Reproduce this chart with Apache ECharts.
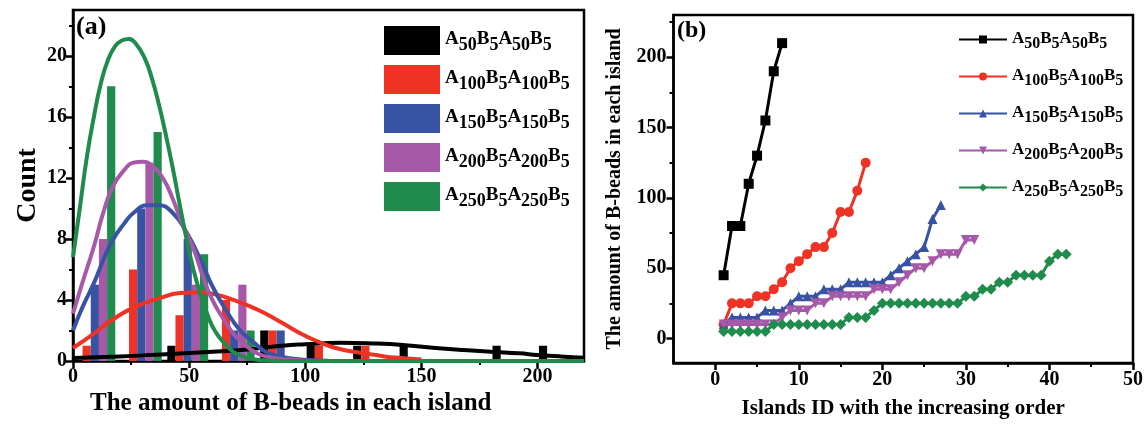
<!DOCTYPE html>
<html><head><meta charset="utf-8">
<script src="https://cdn.jsdelivr.net/npm/echarts@6/dist/echarts.min.js"></script>
<style>html,body{margin:0;padding:0;background:#fff}#c{width:1146px;height:431px}</style>
</head><body><div id="c"></div>
<script>
// ---------- DATA ----------
const polymerNames = ['A50B5A50B5','A100B5A100B5','A150B5A150B5','A200B5A200B5','A250B5A250B5'];
// panel (a): histogram bins (start of each 20-wide bin)
const binStarts = [0,20,40,60,80,100,120,140,160,180,200];
const countA50  = [0,0,1,0,2,1,1,1,0,1,1];
const countA100 = [1,6,3,4,2,1,1,0,0,0,0];
const countA150 = [5,10,8,2,2,0,0,0,0,0,0];
const countA200 = [8,13,5,5,0,0,0,0,0,0,0];
const countA250 = [18,15,7,2,0,0,0,0,0,0,0];
// panel (a): fitted curves [x, count]
const fitA50  = [[0,0.2],[20,0.3],[40,0.45],[60,0.6],[75,0.75],[90,1.0],[100,1.1],[115,1.2],[130,1.15],[142,1.05],[156,0.85],[170,0.7],[180,0.6],[192,0.5],[200,0.4],[210,0.3],[220,0.22]];
const fitA100 = [[0,0.85],[9,1.8],[17,2.7],[26,3.5],[37,4.1],[46,4.45],[55,4.5],[63,4.3],[69,4.0],[76,3.6],[83,3.1],[90,2.5],[98,1.8],[105,1.3],[112,0.9],[119,0.65],[126,0.5],[134,0.3],[141,0.2],[150,0.1]];
const fitA150 = [[0,2.0],[4,3.5],[9,5.1],[13,6.6],[17,7.9],[22,9.0],[26,9.7],[32,10.2],[37,10.2],[43,9.7],[49,8.4],[55,6.6],[60,4.9],[66,3.3],[72,2.0],[78,1.2],[83,0.6],[89,0.3],[98,0.1],[110,0.02]];
const fitA200 = [[0,3.1],[4,5.1],[9,7.5],[13,9.7],[17,11.4],[22,12.5],[26,13.0],[30,13.05],[34,12.8],[39,11.9],[43,10.6],[47,9.0],[52,7.3],[56,5.5],[60,4.0],[65,2.7],[69,1.8],[73,1.2],[78,0.6],[83,0.3],[92,0.1],[105,0.02]];
const fitA250 = [[0,6.8],[3,10.1],[6,13.4],[9,16.0],[12,18.2],[15,19.7],[18,20.6],[21,21.0],[24,21.1],[27,20.8],[31,19.8],[34,18.5],[37,16.8],[40,14.8],[43,12.6],[46,10.2],[49,7.9],[52,5.9],[55,4.3],[58,3.0],[61,2.0],[65,1.2],[69,0.6],[75,0.2],[82,0.05],[90,0],[220,0]];
// panel (b): B-beads per island, islands sorted (island ID = position 1..n)
const islandsA50  = [45,80,80,110,130,155,190,210];
const islandsA100 = [10,25,25,25,30,30,35,40,50,55,60,65,65,75,90,90,105,125];
const islandsA150 = [10,15,15,15,15,20,20,20,25,30,30,30,35,35,35,40,40,40,40,40,45,50,55,60,65,85,95];
const islandsA200 = [10,10,10,10,10,10,10,15,20,20,20,25,25,30,30,30,30,30,35,35,35,40,45,50,50,55,60,60,60,70,70];
const islandsA250 = [5,5,5,5,5,5,10,10,10,10,10,10,10,10,10,15,15,15,20,25,25,25,25,25,25,25,25,25,25,30,30,35,35,40,40,45,45,45,45,55,60,60];
// tick labels
const ticksAx = [0,50,100,150,200], minorAx = [25,75,125,175];
const ticksAy = [0,4,8,12,16,20], minorAy = [2,6,10,14,18,22];
const ticksBx = [0,10,20,30,40,50], minorBx = [5,15,25,35,45];
const ticksBy = [0,50,100,150,200], minorBy = [25,75,125,175,225];

// ---------- STYLE ----------
const colors = ['#000000','#EE3224','#3953A4','#A659A9','#1F8B4C'];
const symbols = ['rect','circle','triangle','triangle','diamond'];
const symbolRot = [0,0,0,180,0];
const FONT = 'Liberation Serif';
const counts = [countA50,countA100,countA150,countA200,countA250];
const fits = [fitA50,fitA100,fitA150,fitA200,fitA250];
const islands = [islandsA50,islandsA100,islandsA150,islandsA200,islandsA250];
const BAR_START = 0.6, BAR_W = 3.52;

function fmt(name){
  const m = name.replace(/^.*:/,'').match(/A(\d+)B(\d+)A(\d+)B(\d+)/);
  return '{b|A}{s|'+m[1]+'}{b|B}{s|'+m[2]+'}{b|A}{s|'+m[3]+'}{b|B}{s|'+m[4]+'}';
}
function rich(fs, fss, drop){
  return {
    b:{fontFamily:FONT,fontWeight:'bold',fontSize:fs,color:'#000',lineHeight:fs+2,verticalAlign:'top'},
    s:{fontFamily:FONT,fontWeight:'bold',fontSize:fss,color:'#000',lineHeight:fs+2,verticalAlign:'top',padding:[drop,0,0,0]}
  };
}
function barRenderer(slot){
  return function(params, api){
    const v = api.value(1);
    if (!v) return {type:'group',children:[]};
    const x0 = api.value(0) + BAR_START + slot*BAR_W;
    const p1 = api.coord([x0, v]);
    const p2 = api.coord([x0 + BAR_W, 0]);
    return {type:'rect', shape:{x:p1[0], y:p1[1], width:p2[0]-p1[0], height:p2[1]-p1[1]},
            style:{fill: colors[slot]}};
  };
}
const axLine = {show:true, onZero:false, lineStyle:{color:'#000', width:2.5}};
const noLine = {show:false, onZero:false};
function labelStyle(fs, vals){ return {show:true, customValues:vals, fontFamily:FONT, fontWeight:'bold', fontSize:fs, color:'#000'}; }

const series = [];
counts.forEach((c,i)=>{
  series.push({type:'custom', name:polymerNames[i], xAxisIndex:0, yAxisIndex:0, z:2,
    itemStyle:{color:colors[i]}, renderItem:barRenderer(i), encode:{x:0,y:1},
    data: binStarts.map((b,k)=>[b,c[k]])});
});
fits.forEach((f,i)=>{
  series.push({type:'line', name:'fit:'+polymerNames[i], xAxisIndex:0, yAxisIndex:0, z:3+i,
    smooth:true, showSymbol:false, lineStyle:{color:colors[i], width:4}, data:f});
});
islands.forEach((v,i)=>{
  series.push({type:'line', name:'b:'+polymerNames[i], xAxisIndex:2, yAxisIndex:2, z:3+i,
    symbol:symbols[i], symbolRotate:symbolRot[i], symbolSize: i===0?10:(i===4?11:10),
    itemStyle:{color:colors[i]}, lineStyle:{color:colors[i], width:3},
    data: v.map((y,k)=>[k+1,y])});
});

const option = {
  animation:false,
  backgroundColor:'#fff',
  grid:[
    {left:73, top:10, width:511, height:351, show:true, borderColor:'#000', borderWidth:2.5, containLabel:false},
    {left:673.5, top:15, width:463.5, height:348, show:true, borderColor:'#000', borderWidth:2.5, containLabel:false}
  ],
  xAxis:[
    {type:'value', gridIndex:0, position:'bottom', min:0, max:220, axisLine:axLine, splitLine:{show:false},
     axisTick:{show:true, customValues:ticksAx, length:7, lineStyle:{width:2.5,color:'#000'}},
     axisLabel:Object.assign(labelStyle(20,ticksAx),{margin:6})},
    {type:'value', gridIndex:0, position:'bottom', min:0, max:220, axisLine:noLine, splitLine:{show:false},
     axisTick:{show:true, customValues:minorAx, length:4, lineStyle:{width:2,color:'#000'}},
     axisLabel:{show:false}},
    {type:'value', gridIndex:1, position:'bottom', min:-5, max:50, axisLine:axLine, splitLine:{show:false},
     axisTick:{show:true, customValues:ticksBx, length:7, lineStyle:{width:2.5,color:'#000'}},
     axisLabel:Object.assign(labelStyle(20,ticksBx),{margin:7}),
     name:'Islands ID with the increasing order', nameLocation:'middle', nameGap:35,
     nameTextStyle:{fontFamily:FONT, fontWeight:'bold', fontSize:21, color:'#000'}},
    {type:'value', gridIndex:1, position:'bottom', min:-5, max:50, axisLine:noLine, splitLine:{show:false},
     axisTick:{show:true, customValues:minorBx, length:4, lineStyle:{width:2,color:'#000'}},
     axisLabel:{show:false}}
  ],
  yAxis:[
    {type:'value', gridIndex:0, position:'left', min:0, max:23, axisLine:axLine, splitLine:{show:false},
     axisTick:{show:true, customValues:ticksAy, length:7, lineStyle:{width:2.5,color:'#000'}},
     axisLabel:Object.assign(labelStyle(20,ticksAy),{margin:6}),
     name:'Count', nameLocation:'middle', nameGap:31,
     nameTextStyle:{fontFamily:FONT, fontWeight:'bold', fontSize:28, color:'#000'}},
    {type:'value', gridIndex:0, position:'left', min:0, max:23, axisLine:noLine, splitLine:{show:false},
     axisTick:{show:true, customValues:minorAy, length:4, lineStyle:{width:2,color:'#000'}},
     axisLabel:{show:false}},
    {type:'value', gridIndex:1, position:'left', min:-17.4, max:230, axisLine:axLine, splitLine:{show:false},
     axisTick:{show:true, customValues:ticksBy, length:7, lineStyle:{width:2.5,color:'#000'}},
     axisLabel:Object.assign(labelStyle(20,ticksBy),{margin:7}),
     name:'The amount of B-beads in each island', nameLocation:'middle', nameGap:49,
     nameTextStyle:{fontFamily:FONT, fontWeight:'bold', fontSize:20, color:'#000'}},
    {type:'value', gridIndex:1, position:'left', min:-17.4, max:230, axisLine:noLine, splitLine:{show:false},
     axisTick:{show:true, customValues:minorBy, length:4, lineStyle:{width:2,color:'#000'}},
     axisLabel:{show:false}}
  ],
  legend:[
    {orient:'vertical', left:379, top:21, itemWidth:56, itemHeight:29, itemGap:10,
     data: polymerNames.map(n=>({name:n, icon:'rect'})), selectedMode:false,
     formatter:fmt, textStyle:{rich:rich(19,18,6)}},
    {orient:'vertical', left:953, top:25, itemWidth:48, itemHeight:10, itemGap:15,
     data: polymerNames.map(n=>'b:'+n), selectedMode:false,
     formatter:fmt, textStyle:{rich:rich(17,16,6)}}
  ],
  graphic:[
    {type:'text', left:76, top:14, style:{text:'(a)', font:'bold 26px "Liberation Serif"', fill:'#000'}},
    {type:'text', left:677, top:19, style:{text:'(b)', font:'bold 24px "Liberation Serif"', fill:'#000'}},
    {type:'text', left:90, top:391, style:{text:'The amount of B-beads in each island', font:'bold 25px "Liberation Serif"', fill:'#000'}}
  ],
  series: series
};
const chart = echarts.init(document.getElementById('c'), null, {renderer:'canvas'});
chart.setOption(option);
</script></body></html>
